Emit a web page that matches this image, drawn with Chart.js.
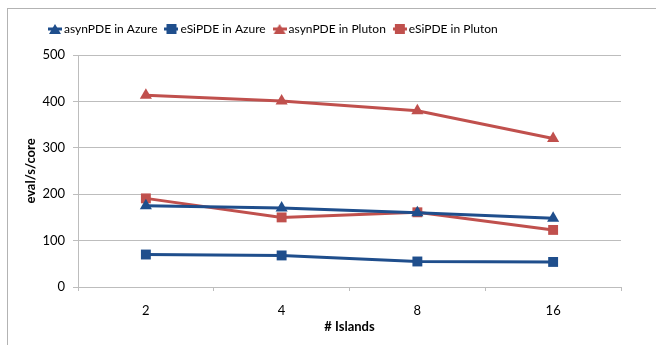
<!DOCTYPE html>
<html>
<head>
<meta charset="utf-8">
<script src="https://cdn.jsdelivr.net/npm/chart.js@4"></script>
<style>
  html, body { margin: 0; padding: 0; background: #fff; }
  #wrap { position: relative; width: 656px; height: 345px; overflow: hidden; }
  #frame { position: absolute; left: 7px; top: 8px; width: 660px; height: 350px;
           border-left: 1px solid #b3b3b3; border-top: 1px solid #b3b3b3; }
  #chart { position: absolute; left: 0; top: 0; }
</style>
</head>
<body>
<div id="wrap">
  <div id="frame"></div>
  <canvas id="chart" width="656" height="345"></canvas>
</div>
<script>
const islands = ['2', '4', '8', '16'];
const asynAzure = [175, 170, 160, 148];
const esipAzure = [70, 68, 55, 54];
const asynPluton = [413, 401, 380, 320];
const esipPluton = [191, 150, 161, 123];

const blue = '#1f4e8c';
const red = '#c0504d';
const font = 'Lato, "Liberation Sans", sans-serif';

// little line + marker picture for the legend
function legendIcon(color, shape) {
    const c = document.createElement('canvas');
    c.width = 14; c.height = 12;
    const g = c.getContext('2d');
    g.strokeStyle = color; g.fillStyle = color; g.lineWidth = 3;
    g.beginPath(); g.moveTo(0, 6); g.lineTo(14, 6); g.stroke();
    g.beginPath();
    if (shape === 'triangle') {
        g.moveTo(7, 1); g.lineTo(13, 11); g.lineTo(1, 11);
    } else {
        g.rect(2, 1, 10, 10);
    }
    g.closePath(); g.fill();
    return c;
}

function series(label, data, color, shape) {
    return {
        label: label,
        data: data,
        borderColor: color,
        backgroundColor: color,
        borderWidth: 3,
        pointStyle: shape,
        pointRadius: 7,
        pointHoverRadius: 7,
        pointBorderWidth: 0,
        legendIcon: legendIcon(color, shape),
        tension: 0
    };
}

// move the legend where Excel put it (left-ish, a bit higher)
const legendShift = {
    id: 'legendShift',
    afterLayout(c) {
        const lg = c.legend;
        const dy = -10;
        lg.left = 41;
        lg.top += dy;
        lg.bottom += dy;
    }
};

const chart = document.querySelector('#chart').getContext('2d');

new Chart(chart, {
    type: 'line',
    data: {
        labels: islands,
        datasets: [
            series('asynPDE in Azure', asynAzure, blue, 'triangle'),
            series('eSiPDE in Azure', esipAzure, blue, 'rect'),
            series('asynPDE in Pluton', asynPluton, red, 'triangle'),
            series('eSiPDE in Pluton', esipPluton, red, 'rect')
        ]
    },
    plugins: [legendShift],
    options: {
        responsive: false,
        animation: false,
        layout: { padding: { left: 19, right: 35, top: 22, bottom: 12 } },
        plugins: {
            tooltip: { enabled: false },
            legend: {
                position: 'top',
                align: 'start',
                labels: {
                    usePointStyle: true,
                    pointStyleWidth: 6,
                    padding: 11,
                    color: '#000',
                    font: { family: font, size: 12 },
                    generateLabels: (c) => c.data.datasets.map((ds, i) => ({
                        text: ds.label,
                        pointStyle: ds.legendIcon,
                        fillStyle: ds.borderColor,
                        strokeStyle: ds.borderColor,
                        lineWidth: 0,
                        hidden: false,
                        datasetIndex: i
                    }))
                }
            }
        },
        scales: {
            x: {
                offset: true,
                grid: { drawOnChartArea: false, offset: true, tickLength: 4, color: '#bdbdbd' },
                border: { color: '#bdbdbd' },
                ticks: { color: '#000', font: { family: font, size: 13, lineHeight: 1 }, padding: 13 },
                title: { display: true, text: '# Islands', color: '#000',
                         font: { family: font, size: 13, weight: 'bold', lineHeight: 1 },
                         padding: { top: 4, bottom: 0 } },
                afterFit: (s) => { s.height = 46; }
            },
            y: {
                min: 0,
                max: 500,
                ticks: { stepSize: 100, color: '#000', font: { family: font, size: 13 }, padding: 8 },
                grid: { color: '#bdbdbd', tickLength: 5 },
                border: { color: '#bdbdbd' },
                title: { display: true, text: 'eval/s/core', color: '#000',
                         font: { family: font, size: 13, weight: 'bold' }, padding: { bottom: 2 } },
                afterFit: (s) => { s.width = 59; }
            }
        }
    }
});
</script>
</body>
</html>
